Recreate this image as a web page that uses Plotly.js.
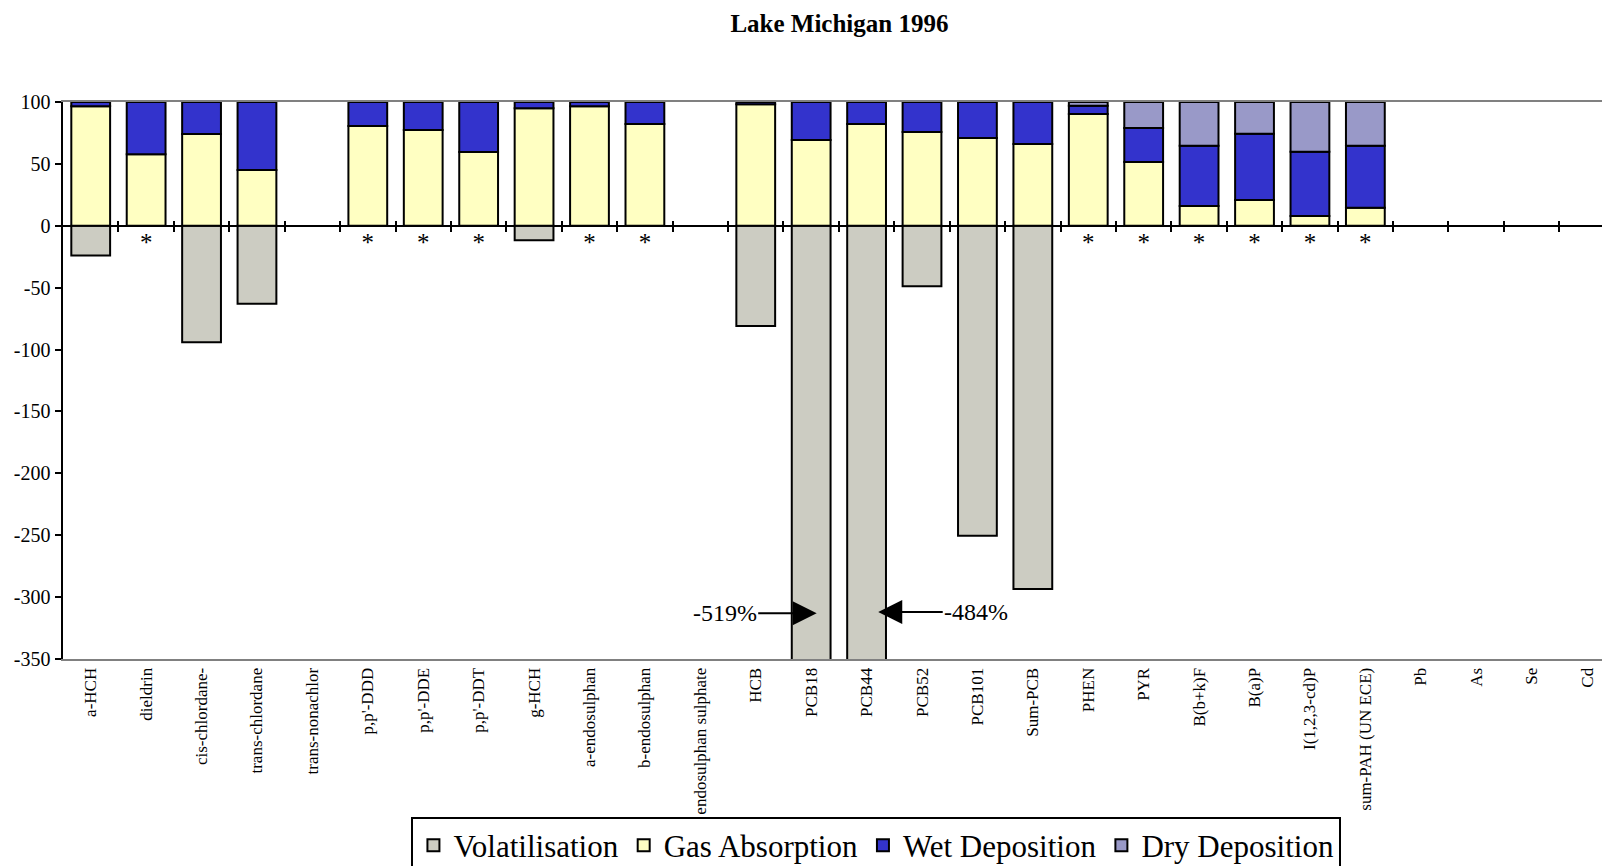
<!DOCTYPE html>
<html>
<head>
<meta charset="utf-8">
<script src="https://cdn.plot.ly/plotly-3.0.1.min.js"></script>
<style>
html,body{margin:0;padding:0;overflow:hidden;background:#fff;}
#chart{width:1602px;height:866px;}
</style>
</head>
<body>
<div id="chart"></div>
<script>
const categories = ["a-HCH","dieldrin","cis-chlordane-","trans-chlordane","trans-nonachlor","p,p'-DDD","p,p'-DDE","p,p'-DDT","g-HCH","a-endosulphan","b-endosulphan","endosulphan sulphate","HCB","PCB18","PCB44","PCB52","PCB101","Sum-PCB","PHEN","PYR","B(b+k)F","B(a)P","I(1,2,3-cd)P","sum-PAH (UN ECE)","Pb","As","Se","Cd"];
const volatilisation = [-24,null,-94,-63,null,null,null,null,-11.6,null,null,null,-81,-519,-484,-48.8,-250.4,-293.4,null,null,null,null,null,null,null,null,null,null];
const gasAbsorption = [96.5,57.7,74.1,45,null,80.6,77.4,59.6,94.9,96.5,82.2,null,98.1,69.3,82.2,75.7,70.9,66,90.3,51.5,15.9,20.8,7.8,14.6,null,null,null,null];
const wetDeposition = [3.5,42.3,25.9,55,null,19.4,22.6,40.4,5.1,3.5,17.8,null,1.9,30.7,17.8,24.3,29.1,34,6.7,27.5,48.8,53.6,52,50.1,null,null,null,null];
const dryDeposition = [null,null,null,null,null,null,null,null,null,null,null,null,null,null,null,null,null,null,3,21,35.3,25.6,40.2,35.3,null,null,null,null];
const yTickVals = [100,50,0,-50,-100,-150,-200,-250,-300,-350];
const yTickText = ["100","50","0","-50","-100","-150","-200","-250","-300","-350"];
const asteriskCats = ["dieldrin","p,p'-DDD","p,p'-DDE","p,p'-DDT","a-endosulphan","b-endosulphan","PHEN","PYR","B(b+k)F","B(a)P","I(1,2,3-cd)P","sum-PAH (UN ECE)"];
const offScaleLabels = [{cat:"PCB18", text:"-519%"},{cat:"PCB44", text:"-484%"}];

const serif = "Liberation Serif";
const idx = categories.map((c,i)=>i);
const line = {color:'#000', width:2};

function barTrace(name, vals, color){
  return {type:'bar', name:name, x:idx, y:vals, width:0.7,
    marker:{color:color, line:line}, hoverinfo:'skip'};
}
const traces = [
  barTrace('Volatilisation', volatilisation, '#CCCCC2'),
  barTrace('Gas Absorption', gasAbsorption, '#FFFFC2'),
  barTrace('Wet Deposition', wetDeposition, '#3333CC'),
  barTrace('Dry Deposition', dryDeposition, '#9999C8'),
  {type:'scatter', mode:'text', x:asteriskCats.map(c=>categories.indexOf(c)),
   y:asteriskCats.map(()=>-15), text:asteriskCats.map(()=>'*'),
   textfont:{family:serif,size:25,color:'#000'}, showlegend:false, hoverinfo:'skip'},
  {type:'scatter', x:[], y:[], xaxis:'x2', showlegend:false, hoverinfo:'skip'},
  {type:'scatter', x:[], y:[], xaxis:'x3', showlegend:false, hoverinfo:'skip'}
];

const xr = [-0.5, 27.27];
const boundaries = categories.map((c,i)=>i+0.5);
const zeroPos = 350/450;

const layout = {
  width:1602, height:866,
  margin:{l:63, r:0, t:102, b:207, autoexpand:false},
  paper_bgcolor:'#fff', plot_bgcolor:'#fff',
  barmode:'relative',
  showlegend:true,
  title:{text:'<b>Lake Michigan 1996</b>', font:{family:serif,size:25,color:'#000'},
    xref:'container', yref:'container', x:0.524, y:0.973, xanchor:'center', yanchor:'middle'},
  xaxis:{type:'linear', range:xr, tickvals:idx, ticktext:categories, tickangle:-90,
    ticks:'', showgrid:false, zeroline:false, showline:true, linecolor:'#808080', linewidth:2, mirror:true,
    tickfont:{family:serif,size:17,color:'#000'}, fixedrange:true, automargin:false},
  xaxis2:{type:'linear', range:xr, overlaying:'x', anchor:'free', position:zeroPos, side:'bottom',
    tickvals:boundaries, ticks:'outside', ticklen:5, tickwidth:2, tickcolor:'#000',
    showticklabels:false, showgrid:false, zeroline:false, showline:false},
  xaxis3:{type:'linear', range:xr, overlaying:'x', anchor:'free', position:zeroPos, side:'top',
    tickvals:boundaries, ticks:'outside', ticklen:5, tickwidth:2, tickcolor:'#000',
    showticklabels:false, showgrid:false, zeroline:false, showline:false},
  yaxis:{range:[-350,100], tickvals:yTickVals, ticktext:yTickText,
    ticks:'outside', ticklen:6, tickwidth:2, tickcolor:'#000',
    showline:true, linecolor:'#000', linewidth:2.5,
    zeroline:true, zerolinecolor:'#000', zerolinewidth:2.5, showgrid:false,
    tickfont:{family:serif,size:20,color:'#000'}, fixedrange:true, automargin:false},
  legend:{orientation:'h', x:0.2264, y:-0.283, xanchor:'left', yanchor:'top',
    traceorder:'normal', bordercolor:'#000', borderwidth:2,
    font:{family:serif,size:31,color:'#000'}, bgcolor:'#fff', itemwidth:30},
  annotations:[
    {x:categories.indexOf(offScaleLabels[0].cat)+0.1, y:-313, xref:'x', yref:'y',
     text:offScaleLabels[0].text, showarrow:true, arrowhead:2, arrowsize:2.4, arrowwidth:2,
     arrowcolor:'#000', ax:-92, ay:0, font:{family:serif,size:24,color:'#000'}},
    {x:categories.indexOf(offScaleLabels[1].cat)+0.21, y:-312, xref:'x', yref:'y',
     text:offScaleLabels[1].text, showarrow:true, arrowhead:2, arrowsize:2.4, arrowwidth:2,
     arrowcolor:'#000', ax:98, ay:0, font:{family:serif,size:24,color:'#000'}}
  ]
};

Plotly.newPlot('chart', traces, layout, {displayModeBar:false, staticPlot:true});
</script>
</body>
</html>
